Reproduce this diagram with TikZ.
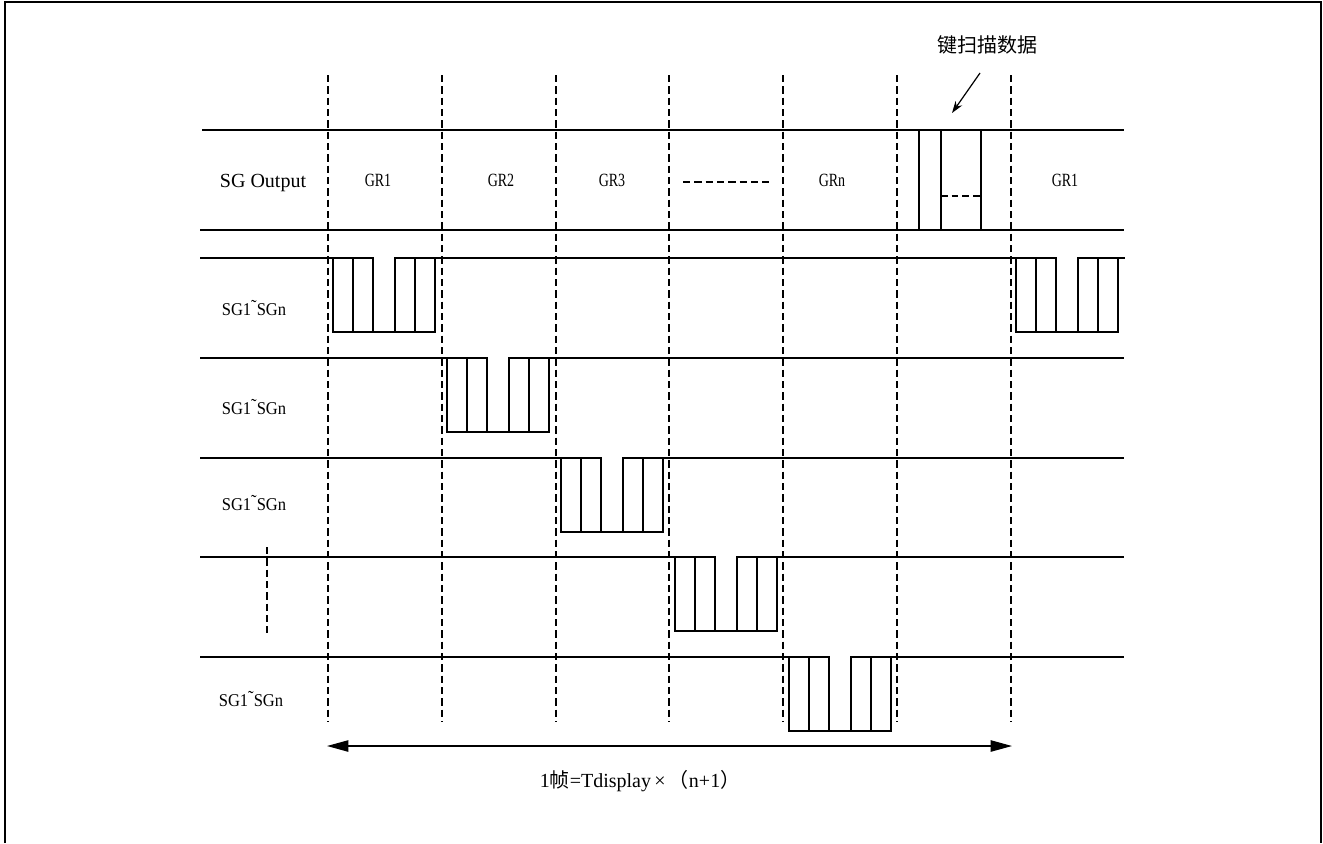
\documentclass[tikz,border=0pt]{standalone}
\usepackage{fontspec}
\setmainfont{Liberation Serif}
\newfontfamily\cjk{Noto Sans CJK SC}
\newfontfamily\narrowfont[FakeStretch=0.75]{Liberation Serif}
\newfontfamily\sgfont[FakeStretch=0.92]{Liberation Serif}
\usetikzlibrary{arrows.meta}
\begin{document}
\begin{tikzpicture}[x=0.75pt,y=-0.75pt,
  frame/.style={line width=2pt},
  rowline/.style={line width=1.1pt},
  guide/.style={line width=1pt,dash pattern=on 5.5pt off 3pt},
  wave/.style={line width=0.9pt},
  grlbl/.style={inner sep=0pt,font=\narrowfont\fontsize{14}{16}\selectfont},
  sglbl/.style={inner sep=0pt,font=\sgfont\fontsize{13.5}{16}\selectfont},
  mainlbl/.style={inner sep=0pt,font=\fontsize{15}{18}\selectfont},
  cjklbl/.style={inner sep=0pt,font=\cjk\fontsize{15}{18}\selectfont},
  pulse/.pic={
    \draw[wave] (0,0) rectangle (40,74);
    \draw[wave] (20,0) -- (20,74);
    \draw[wave] (62,0) rectangle (102,74);
    \draw[wave] (82,0) -- (82,74);
    \draw[wave] (40,74) -- (62,74);
  }
]
\useasboundingbox (0,0) rectangle (1323,843);
% outer frame
\draw[frame] (5,843) -- (5,2) -- (1321,2) -- (1321,843);

% dashed time guides
\foreach \gx [count=\i] in {328,442,556,669,783,897,1011}{
  \coordinate (gt\i) at (\gx,75);
  \coordinate (gb\i) at (\gx,722);
  \draw[guide] (gt\i) -- (gb\i);
}

% SG output band
\draw[rowline] (202,130) -- (1124,130);
\draw[rowline] (200,230) -- (1124,230);

% waveform rows (line with gap at the pulse)
\draw[rowline] (200,258) -- (373,258) (395,258) -- (1056,258) (1077,258) -- (1125,258);
\draw[rowline] (200,358) -- (487,358) (509,358) -- (1124,358);
\draw[rowline] (200,458) -- (601,458) (623,458) -- (1124,458);
\draw[rowline] (200,557) -- (715,557) (737,557) -- (1124,557);
\draw[rowline] (200,657) -- (829,657) (851,657) -- (1124,657);

% pulses
\pic at (333,258) {pulse};
\pic at (447,358) {pulse};
\pic at (561,458) {pulse};
\pic at (675,557) {pulse};
\pic at (789,657) {pulse};
\pic at (1016,258) {pulse};

% key scan slot
\draw[wave] (919,130) -- (919,230);
\draw[wave] (941,130) -- (941,230);
\draw[wave] (981,130) -- (981,230);
\draw[wave,dash pattern=on 5pt off 3pt] (941,196) -- (981,196);

% labels
\node[mainlbl] (sgout) at (263,183) {SG Output};
\node[grlbl] (gr1) at (378,180) {GR1};
\node[grlbl] (gr2) at (501,180) {GR2};
\node[grlbl] (gr3) at (612,180) {GR3};
\coordinate (dl) at (683,182);
\coordinate (dr) at (769,182);
\draw[guide] (dl) -- (dr);
\node[grlbl] (grn) at (832,180) {GRn};
\node[grlbl] (gr1b) at (1065,180) {GR1};

\node[sglbl] (sg1) at (254,308) {SG1\raisebox{0.45ex}{˜}SGn};
\node[sglbl] (sg2) at (254,407) {SG1\raisebox{0.45ex}{˜}SGn};
\node[sglbl] (sg3) at (254,503) {SG1\raisebox{0.45ex}{˜}SGn};
\node[sglbl] (sg5) at (251,699) {SG1\raisebox{0.45ex}{˜}SGn};
\coordinate (vt) at (267,547);
\coordinate (vb) at (267,633);
\draw[guide] (vt) -- (vb);

% key scan label and arrow
\node[cjklbl] (key) at (987,45) {键扫描数据};
\coordinate (ka) at (980,73);
\coordinate (kb) at (952,113);
\draw[line width=0.9pt,-{Stealth[length=9pt,width=6pt]}] (ka) -- (kb);

% frame duration arrow
\coordinate (fl) at (327,746);
\coordinate (fr) at (1012,746);
\draw[line width=1pt,{Triangle[length=16pt,width=8.5pt]}-{Triangle[length=16pt,width=8.5pt]}] (fl) -- (fr);
\node[mainlbl] (frm) at (640,781) {1{\cjk 帧}=Tdisplay\,×\,{\cjk （}n+1{\cjk ）}};
\end{tikzpicture}
\end{document}
